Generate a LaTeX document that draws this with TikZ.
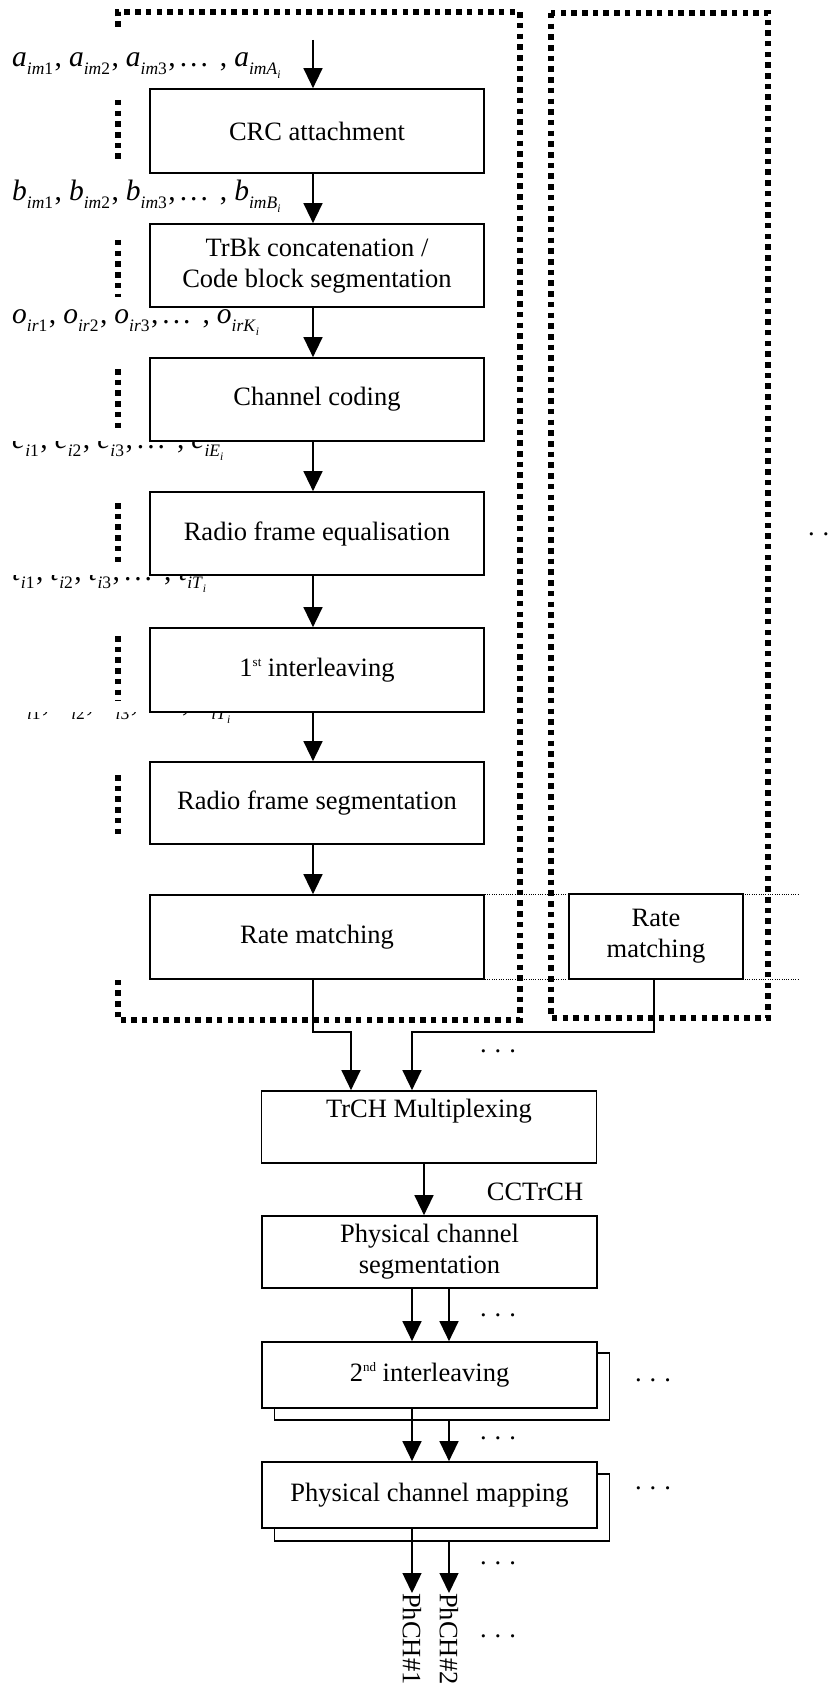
\documentclass[tikz,border=0pt]{standalone}
\usepackage{fontspec}
\setmainfont{Liberation Serif}
\usetikzlibrary{arrows.meta}
\newcommand\lfnt{\fontsize{29.5}{31}\selectfont}
\newcommand\bfnt{\fontsize{26.5}{31}\selectfont}
\newcommand\sbf{\fontsize{17.5}{17.5}\selectfont}
\newcommand\lsub[1]{\raisebox{-8pt}{\sbf #1}}
\newcommand\lv[2]{\textit{#1}\lsub{#2}}
\newcommand\ssub[1]{\raisebox{-4pt}{\fontsize{11.5}{11.5}\selectfont\textit{#1}}}
\newcommand\ldd{.\hspace{3pt}.\hspace{3pt}.}
\newcommand\seqlbl[3]{\lv{#1}{\textit{#2}1}\hspace{1.5pt},\hspace{7pt}\lv{#1}{\textit{#2}2}\hspace{1.5pt},\hspace{7pt}\lv{#1}{\textit{#2}3}\hspace{1.5pt},\hspace{4pt}\ldd\hspace{12pt},\hspace{7pt}\lv{#1}{\textit{#2#3}\ssub{i}}}
\newcommand\bdots{.\hspace{8pt}.\hspace{8pt}.}
\newcommand\sps[1]{\raisebox{10pt}{\fontsize{13}{13}\selectfont #1}}
\tikzset{
  bigdot/.style={line width=5.5pt, dash pattern=on 5.5pt off 5.2pt},
  smalldot/.style={line width=0.9pt, dash pattern=on 0.9pt off 1.4pt},
  pbox/.style={draw, line width=1.7pt, fill=white, inner sep=0pt, align=center, font=\bfnt},
  mbox/.style={pbox, minimum width=334pt, minimum height=83pt},
  lbox/.style={pbox, minimum width=335pt},
  arr/.style={line width=1.4pt, -{Triangle[width=19pt,length=20pt]}},
  lbl/.style={inner sep=0pt, anchor=base west, font=\lfnt},
  dotsn/.style={inner sep=0pt, anchor=base, font=\bfnt},
}
\begin{document}
\begin{tikzpicture}[x=1pt,y=-1pt]
\useasboundingbox (0,0) rectangle (837,1688);
\clip (0,0) rectangle (837,1688);

% dotted frames
\draw[bigdot] (118,27) -- (118,12) -- (520,12) -- (520,1020) -- (118,1020) -- (118,907);
\draw[bigdot] (551,13) rectangle (768,1018);

% sequence labels
\node[lbl] (la) at (12,67) {\seqlbl{a}{im}{A}};
\node[lbl] (lb) at (12,201) {\seqlbl{b}{im}{B}};
\node[lbl] (lo) at (12,323) {\seqlbl{o}{ir}{K}};
\node[lbl] (lc) at (12,448) {\seqlbl{c}{i}{E}};
\node[lbl] (lt) at (12,580) {\seqlbl{t}{i}{T}};
\node[lbl] (ld) at (12,711) {\seqlbl{d}{i}{T}};

% white covers left of the boxes
\foreach \t/\b in {89/173,224/307,358/441,492/575,628/712,762/844,895/979}
  \fill[white] (0,\t) rectangle (150,\b);

% left dotted segments
\foreach \a/\b in {100/163,240/297,369/429,503/567,636/701,775/837}
  \draw[bigdot] (118,\a) -- (118,\b);

% main column
\node[mbox, minimum height=84pt] (crc) at (317,131) {CRC attachment};
\node[mbox] (trbk) at (317,265.5) {TrBk concatenation /\\Code block segmentation};
\node[mbox] (cc) at (317,399.5) {Channel coding};
\node[mbox] (rfe) at (317,533.5) {Radio frame equalisation};
\node[mbox, minimum height=84pt] (il1) at (317,670) {1\sps{st} interleaving};
\node[mbox, minimum height=82pt] (rfs) at (317,803) {Radio frame segmentation};
\node[mbox, minimum height=84pt] (rm) at (317,937) {Rate matching};

\coordinate (te) at (798,0);
\draw[smalldot] (rm.north east) -- (rm.north east -| te);
\draw[smalldot] (rm.south east) -- (rm.south east -| te);
\node[pbox, minimum width=174pt, minimum height=85pt] (rm2) at (656,936.5) {Rate\\matching};

\node[dotsn] (rdots) at (826,535) {\bdots};

\coordinate (top) at (313,40);
\draw[arr] (top) -- (top |- crc.north);
\draw[arr] (crc.south -| top) -- (trbk.north -| top);
\draw[arr] (trbk.south -| top) -- (cc.north -| top);
\draw[arr] (cc.south -| top) -- (rfe.north -| top);
\draw[arr] (rfe.south -| top) -- (il1.north -| top);
\draw[arr] (il1.south -| top) -- (rfs.north -| top);
\draw[arr] (rfs.south -| top) -- (rm.north -| top);

% lower part
\node[lbox, minimum height=72pt] (trch) at (429,1127) {};
\node[inner sep=0pt, font=\bfnt] (trcht) at ([yshift=-21pt]trch.north) {TrCH Multiplexing};
\node[lbox, minimum height=72pt] (pcs) at (429.5,1252) {Physical channel\\segmentation};
\node[lbox, minimum height=67pt] (il2s) at (442,1386.5) {};
\node[lbox, minimum height=66pt] (il2) at (429.5,1375) {2\sps{nd} interleaving};
\node[lbox, minimum height=67pt] (pcms) at (442,1507.5) {};
\node[lbox, minimum height=66pt] (pcm) at (429.5,1495) {Physical channel mapping};
\node[inner sep=0pt, font=\bfnt] (cct) at (535,1192) {CCTrCH};

\coordinate (ja) at (351,1032);
\coordinate (jb) at (412,1032);
\draw[arr] (rm.south -| top) |- (ja) -- (ja |- trch.north);
\draw[arr] ([xshift=-2pt]rm2.south) |- (jb) -- (jb |- trch.north);

\coordinate (xa) at (412,0);
\coordinate (xb) at (449,0);
\coordinate (xc) at (424,0);
\draw[arr] (trch.south -| xc) -- (pcs.north -| xc);
\draw[arr] (pcs.south -| xa) -- (il2.north -| xa);
\draw[arr] (pcs.south -| xb) -- (il2.north -| xb);
\draw[arr] (il2.south -| xa) -- (pcm.north -| xa);
\draw[arr] (il2s.south -| xb) -- (pcm.north -| xb);

\node[rotate=-90, anchor=west, inner sep=0pt, font=\bfnt] (ph1) at (412,1593) {PhCH\#1};
\node[rotate=-90, anchor=west, inner sep=0pt, font=\bfnt] (ph2) at (449,1593) {PhCH\#2};
\draw[arr] (pcm.south -| xa) -- (ph1.west);
\draw[arr] (pcms.south -| xb) -- (ph2.west);

\node[dotsn] (d1) at (498,1052.5) {\bdots};
\node[dotsn] (d2) at (498,1316.5) {\bdots};
\node[dotsn] (d3) at (653,1381.5) {\bdots};
\node[dotsn] (d4) at (498,1439.5) {\bdots};
\node[dotsn] (d5) at (653,1489.5) {\bdots};
\node[dotsn] (d6) at (498,1564.5) {\bdots};
\node[dotsn] (d7) at (498,1637.5) {\bdots};
\end{tikzpicture}
\end{document}
